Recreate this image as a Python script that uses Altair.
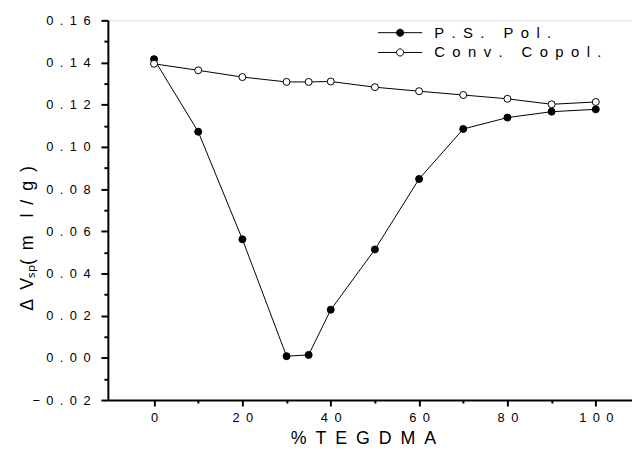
import altair as alt
import pandas as pd

tegdma = [0, 10, 20, 30, 35, 40, 50, 60, 70, 80, 90, 100]
ps_pol = [0.1416, 0.1072, 0.0562, 0.0008, 0.0014, 0.0228, 0.0514, 0.0848, 0.1085, 0.1139, 0.1167, 0.1178]
conv_copol = [0.1394, 0.1363, 0.1331, 0.1308, 0.1308, 0.1310, 0.1283, 0.1264, 0.1246, 0.1228, 0.1202, 0.1213]
series_names = ["P.S. Pol.", "Conv. Copol."]
x_ticks = [0, 10, 20, 30, 40, 50, 60, 70, 80, 90, 100]
y_ticks = [-0.02, -0.01, 0.0, 0.01, 0.02, 0.03, 0.04, 0.05, 0.06, 0.07, 0.08, 0.09,
           0.10, 0.11, 0.12, 0.13, 0.14, 0.15, 0.16]

rows = []
for name, vals in zip(series_names, [ps_pol, conv_copol]):
    for xv, yv in zip(tegdma, vals):
        rows.append({"x": xv, "y": yv, "series": name})
df = pd.DataFrame(rows)

FONT = "Liberation Sans"
SP = "\u2002"

x_title = SP.join("%TEGDMA")
y_title = "\u0394" + SP + "V\u209b\u209a(" + SP + "m" + SP + SP + "l" + SP + "/" + SP + "g" + SP + ")"

x_enc = alt.X("x:Q", scale=alt.Scale(domain=[-10.45, 108.2], nice=False, zero=False),
              axis=alt.Axis(values=x_ticks, grid=False,
                            title=x_title,
                            titleFontSize=18, titleFont=FONT, titleFontWeight="normal",
                            titleX=258, titleY=39, titleBaseline="middle", titleAlign="center",
                            labelExpr=f"datum.value % 20 ? '' : join(split(format(datum.value,'d'),''),'{SP}')",
                            labelFont=FONT, labelFontSize=13, labelPadding=6,
                            tickSize={"condition": {"test": "datum.value % 20", "value": 3}, "value": 6},
                            tickWidth=2, domainWidth=2, domainColor="black", tickColor="black",
                            labelColor="black", titleColor="black"))

y_enc = alt.Y("y:Q", scale=alt.Scale(domain=[-0.02, 0.16], nice=False, zero=False),
              axis=alt.Axis(values=y_ticks, grid=False,
                            title=y_title,
                            titleFontSize=18, titleFont=FONT, titleFontWeight="normal",
                            titleX=-81, titleY=220, titleAngle=270, titleAlign="center",
                            titleBaseline="middle",
                            labelExpr=f"round(datum.value*100) % 2 ? '' : join(split(format(datum.value,'.2f'),''),'{SP}')",
                            labelFont=FONT, labelFontSize=13, labelPadding=11,
                            tickSize={"condition": {"test": "round(datum.value*100) % 2", "value": 4}, "value": 7},
                            tickWidth=2, domainWidth=2, domainColor="black", tickColor="black",
                            labelColor="black", titleColor="black"))

base = alt.Chart(df)

lines = base.mark_line(color="black", strokeWidth=1).encode(
    x=x_enc, y=y_enc, detail="series:N", order="x:Q")

sym_path = "M-5.6,0L-0.9,0M0.9,0L5.6,0M-0.9,0A0.9,0.9,0,1,1,0.9,0A0.9,0.9,0,1,1,-0.9,0Z"

points = base.mark_point(shape="circle", filled=True, stroke="black", strokeWidth=1,
                         size=50, opacity=1).encode(
    x=x_enc, y=y_enc,
    fill=alt.Fill("series:N", sort=series_names,
                  scale=alt.Scale(domain=series_names, range=["black", "white"]),
                  legend=alt.Legend(title=None, orient="none", legendX=288, legendY=5,
                                    symbolType=sym_path, symbolSize=64,
                                    symbolStrokeColor="black", symbolStrokeWidth=1,
                                    labelFont=FONT, labelFontSize=15, labelColor="black",
                                    labelOffset=27, rowPadding=4, padding=0, labelLimit=400,
                                    labelExpr=f"join(split(datum.label,''),'{SP}')")),
)

chart = alt.layer(lines, points).properties(
    width=530, height=384,
    autosize=alt.AutoSizeParams(type="none"),
    padding={"left": 101, "top": 10, "right": 0, "bottom": 45},
).configure_view(stroke=None).configure(background="white")

chart.save("out.html", embed_options={"renderer": "svg", "actions": False})
